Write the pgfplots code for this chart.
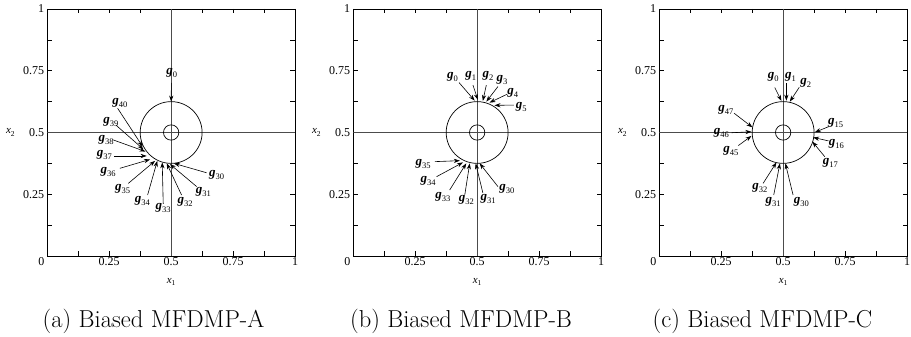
\documentclass[border=0pt]{standalone}
\usepackage{fontspec}
\usepackage{pgfplots}
\pgfplotsset{compat=1.18}
\usetikzlibrary{arrows.meta}
\newfontfamily\tnr{Liberation Serif}
\newcommand\gl[1]{{\tnr\fontsize{13}{13}\selectfont\textbf{\textit{g}}\raisebox{-3pt}{\fontsize{8.5}{8.5}\selectfont #1}}}
\newcommand\garr[7]{%
  \addplot[arr] coordinates {(#4,#5) (#6,#7)};
  \node[inner sep=0pt] at (axis cs:#2,#3) {\gl{#1}};
}
\pgfplotsset{
  panel/.style={
    width=247.7pt, height=247pt, scale only axis, anchor=south west,
    xmin=0, xmax=1, ymin=0, ymax=1,
    xtick={0,0.25,0.5,0.75,1},
    xticklabels={\makebox[0pt][r]{0\hspace{3pt}},0.25,0.5,0.75,1},
    ytick={0.25,0.5,0.75,1},
    yticklabels={0.25,0.5,0.75,1},
    minor xtick={0.125,0.375,0.625,0.875},
    minor ytick={0.125,0.375,0.625,0.875},
    tick align=inside, major tick length=4.5pt, minor tick length=4.5pt,
    tick style={black, line width=0.6pt},
    axis line style={black, line width=0.8pt},
    /pgf/number format/assume math mode=true,
    ticklabel style={font=\tnr\fontsize{12}{12}\selectfont},
    xticklabel style={inner sep=1.5pt},
    yticklabel style={inner sep=3pt},
    xlabel={\tnr\fontsize{11}{11}\selectfont\textit{x}\raisebox{-2.5pt}{\fontsize{7.5}{7.5}\selectfont 1}},
    ylabel={\tnr\fontsize{11}{11}\selectfont\textit{x}\raisebox{-2.5pt}{\fontsize{7.5}{7.5}\selectfont 2}},
    xlabel style={at={(axis description cs:0.5,-0.105)}, anchor=center},
    ylabel style={at={(axis description cs:-0.149,0.5)}, anchor=center, rotate=-90},
  },
  arr/.style={black, line width=0.6pt, -{Stealth[length=6pt,width=4.2pt]}},
  cross/.style={gray!60!black, line width=0.6pt},
}
\newcommand\base{%
  \addplot[cross] coordinates {(0,0.5) (1,0.5)};
  \addplot[cross] coordinates {(0.5,0) (0.5,1)};
  \draw[black, line width=0.7pt] (axis cs:0.5,0.5) ellipse [x radius=0.125, y radius=0.125];
  \draw[black, line width=0.7pt] (axis cs:0.5,0.5) ellipse [x radius=0.031, y radius=0.031];
}
\begin{document}
\begin{tikzpicture}
\useasboundingbox (0,0) rectangle (911pt,337pt);
% ---------------- (a)
\begin{axis}[panel, at={(47.3pt,81pt)}]
\base
\garr{0}{0.502}{0.742}{0.501}{0.701}{0.5}{0.625}
\garr{40}{0.293}{0.621}{0.284}{0.598}{0.385}{0.443}
\garr{39}{0.257}{0.544}{0.277}{0.530}{0.388}{0.432}
\garr{38}{0.237}{0.470}{0.266}{0.470}{0.396}{0.423}
\garr{37}{0.230}{0.409}{0.270}{0.405}{0.401}{0.405}
\garr{36}{0.246}{0.341}{0.293}{0.355}{0.415}{0.391}
\garr{35}{0.304}{0.270}{0.327}{0.294}{0.435}{0.385}
\garr{34}{0.384}{0.223}{0.405}{0.247}{0.444}{0.385}
\garr{33}{0.468}{0.193}{0.468}{0.211}{0.464}{0.379}
\garr{32}{0.556}{0.217}{0.542}{0.247}{0.482}{0.375}
\garr{31}{0.630}{0.260}{0.603}{0.281}{0.495}{0.372}
\garr{30}{0.684}{0.328}{0.643}{0.337}{0.511}{0.375}
\end{axis}
% ---------------- (b)
\begin{axis}[panel, at={(353.3pt,81pt)}]
\base
\garr{0}{0.400}{0.723}{0.427}{0.702}{0.490}{0.629}
\garr{1}{0.474}{0.729}{0.483}{0.692}{0.503}{0.632}
\garr{2}{0.544}{0.731}{0.537}{0.692}{0.523}{0.628}
\garr{3}{0.600}{0.713}{0.584}{0.686}{0.537}{0.625}
\garr{4}{0.644}{0.661}{0.621}{0.655}{0.550}{0.621}
\garr{5}{0.678}{0.605}{0.648}{0.611}{0.570}{0.610}
\garr{35}{0.282}{0.371}{0.329}{0.382}{0.430}{0.386}
\garr{34}{0.302}{0.304}{0.336}{0.321}{0.443}{0.379}
\garr{33}{0.362}{0.238}{0.389}{0.267}{0.456}{0.375}
\garr{32}{0.456}{0.227}{0.450}{0.247}{0.470}{0.375}
\garr{31}{0.544}{0.229}{0.523}{0.256}{0.494}{0.375}
\garr{30}{0.620}{0.270}{0.584}{0.281}{0.510}{0.375}
\end{axis}
% ---------------- (c)
\begin{axis}[panel, at={(659.3pt,81pt)}]
\base
\garr{0}{0.460}{0.723}{0.466}{0.682}{0.493}{0.628}
\garr{1}{0.530}{0.726}{0.513}{0.699}{0.513}{0.629}
\garr{2}{0.591}{0.699}{0.565}{0.683}{0.527}{0.625}
\garr{47}{0.269}{0.591}{0.302}{0.578}{0.376}{0.521}
\garr{46}{0.251}{0.499}{0.292}{0.499}{0.372}{0.503}
\garr{45}{0.289}{0.426}{0.319}{0.447}{0.372}{0.486}
\garr{15}{0.712}{0.540}{0.685}{0.524}{0.628}{0.501}
\garr{16}{0.715}{0.453}{0.683}{0.466}{0.621}{0.480}
\garr{17}{0.691}{0.375}{0.668}{0.402}{0.618}{0.463}
\garr{32}{0.406}{0.274}{0.419}{0.294}{0.473}{0.379}
\garr{31}{0.460}{0.220}{0.462}{0.247}{0.487}{0.375}
\garr{30}{0.574}{0.220}{0.540}{0.247}{0.509}{0.375}
\end{axis}
% captions
\node[anchor=base, font=\fontsize{24.5}{24.5}\selectfont, inner sep=0pt] at (153.5pt,9.5pt) {(a) Biased MFDMP-A};
\node[anchor=base, font=\fontsize{24.5}{24.5}\selectfont, inner sep=0pt] at (461pt,9.5pt) {(b) Biased MFDMP-B};
\node[anchor=base, font=\fontsize{24.5}{24.5}\selectfont, inner sep=0pt] at (762.5pt,9.5pt) {(c) Biased MFDMP-C};
\end{tikzpicture}
\end{document}
